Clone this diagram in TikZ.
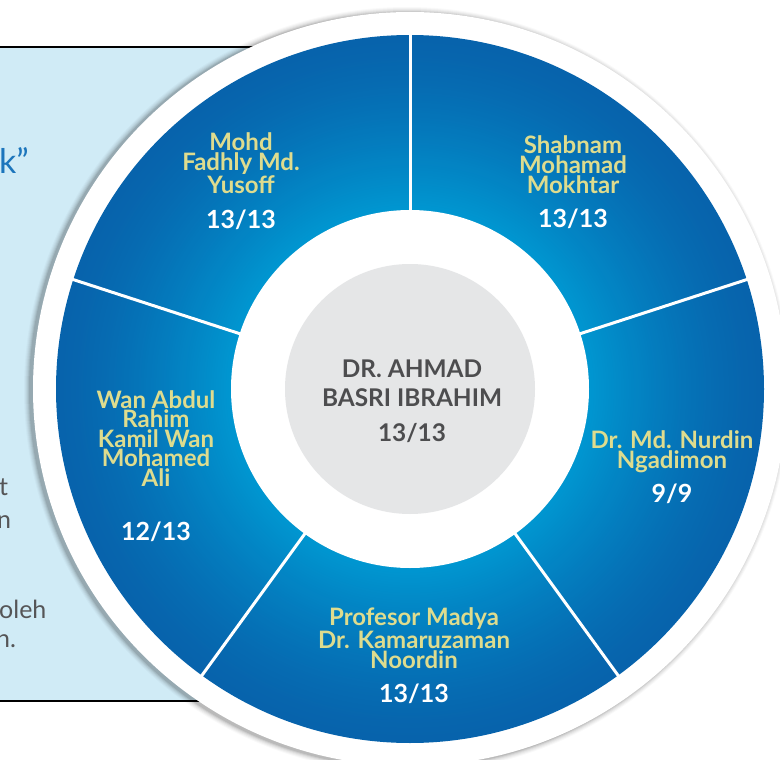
\documentclass[tikz,border=0pt]{standalone}
\usepackage{fontspec}
\setmainfont{Lato}
\definecolor{lightbox}{HTML}{D0EBF6}
\definecolor{ringdark}{HTML}{0763AC}
\definecolor{ringlight}{HTML}{0097D1}
\definecolor{namecol}{HTML}{DEDC8E}
\definecolor{centregrey}{HTML}{E5E6E7}
\definecolor{centretext}{HTML}{4D4D4F}
\definecolor{bodygrey}{HTML}{555557}
\definecolor{quoteblue}{HTML}{1C75BC}
\begin{document}
\begin{tikzpicture}[x=1pt,y=-1pt,
  namestyle/.style={text=namecol, font=\bfseries\fontsize{24}{19.8}\selectfont, align=center, anchor=base, inner sep=0pt},
  scorestyle/.style={text=white, font=\bfseries\fontsize{25}{25}\selectfont, anchor=base, inner sep=0pt},
  centrestyle/.style={text=centretext, font=\bfseries\fontsize{24.4}{29}\selectfont, align=center, anchor=base, inner sep=0pt},
  bodystyle/.style={text=bodygrey, font=\fontsize{25}{25}\selectfont, anchor=base west, inner sep=0pt},
  divider/.style={white, line width=3pt}]
\useasboundingbox (0,0) rectangle (780,760);
\clip (0,0) rectangle (780,760);
% background panel on the left
\fill[lightbox] (-5,47) rectangle (320,701);
\draw[line width=2pt] (-5,47) -- (320,47);
\draw[line width=2pt] (-5,701) -- (320,701);
\node[text=quoteblue, font=\fontsize{34}{34}\selectfont, anchor=base west, inner sep=0pt] (quote) at (-1,173) {k”};
\node[bodystyle] (frag1) at (-1,495) {t};
\node[bodystyle] (frag2) at (-3,528) {n};
\node[bodystyle] (frag3) at (-1,618) {oleh};
\node[bodystyle] (frag4) at (-4,647) {n.};
% soft shadow of the white disc
\foreach \k/\o in {6/0.025,5/0.03,4/0.04,3/0.05,2/0.07,1/0.09}
  \fill[black,opacity=\o] (407,390) circle[radius=377pt+\k pt];
\fill[white] (410,389) circle[radius=377pt];
% blue ring with radial gradient
\foreach \i in {0,...,70} {
  \pgfmathsetmacro\rr{354-\i*2.5}
  \pgfmathsetmacro\pp{100*(\i/70)^1.4}
  \fill[ringlight!\pp!ringdark] (410,389) circle[radius=\rr pt];
}
\fill[white] (410,389) circle[radius=179pt];
% dividers
\foreach \a in {18,90,162,234,306} {
  \coordinate (in\a) at ({410+176*cos(\a)},{389-176*sin(\a)});
  \coordinate (out\a) at ({410+357*cos(\a)},{389-357*sin(\a)});
  \draw[divider] (in\a) -- (out\a);
}
% centre
\node[circle, fill=centregrey, minimum size=250pt, inner sep=0pt] (centre) at (410,389) {};
\node[centrestyle] (chair) at (412,406) {DR. AHMAD\\BASRI IBRAHIM};
\node[scorestyle, text=centretext, font=\bfseries\fontsize{24.4}{24.4}\selectfont] (chairscore) at (412,441) {13/13};
% members
\node[namestyle] (m1) at (241,193) {Mohd\\Fadhly Md.\\Yusoff};
\node[scorestyle] (s1) at (241,228) {13/13};
\node[namestyle] (m2) at (573,193) {Shabnam\\Mohamad\\Mokhtar};
\node[scorestyle] (s2) at (573,227) {13/13};
\node[namestyle] (m3) at (672,468) {Dr. Md. Nurdin\\Ngadimon};
\node[scorestyle] (s3) at (672,502) {9/9};
\node[namestyle] (m4) at (414,668) {Profesor Madya\\Dr. Kamaruzaman\\Noordin};
\node[scorestyle] (s4) at (414,702) {13/13};
\node[namestyle, font=\bfseries\fontsize{24}{19.5}\selectfont] (m5) at (156,486) {Wan Abdul\\Rahim\\Kamil Wan\\Mohamed\\Ali};
\node[scorestyle] (s5) at (156,540) {12/13};
\end{tikzpicture}
\end{document}
